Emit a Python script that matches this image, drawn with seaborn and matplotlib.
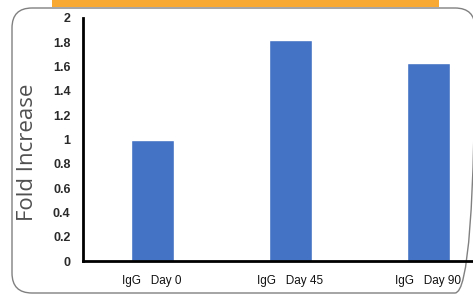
import matplotlib
matplotlib.use("Agg")
import matplotlib.pyplot as plt
import seaborn as sns
import pandas as pd
from matplotlib.patches import FancyBboxPatch, Rectangle

categories = ["IgG   Day 0", "IgG   Day 45", "IgG   Day 90"]
values = [1.0, 1.82, 1.63]
yticks = [0, 0.2, 0.4, 0.6, 0.8, 1, 1.2, 1.4, 1.6, 1.8, 2]
ytick_labels = ["0", "0.2", "0.4", "0.6", "0.8", "1", "1.2", "1.4", "1.6", "1.8", "2"]

df = pd.DataFrame({"cat": categories, "val": values})

sns.set_style("white")
plt.rcParams['font.family'] = ['Liberation Sans', 'DejaVu Sans']

W, H = 473, 297
fig = plt.figure(figsize=(W/100, H/100), dpi=100)

# background decoration in pixel coordinates
bg = fig.add_axes([0, 0, 1, 1])
bg.set_xlim(0, W)
bg.set_ylim(H, 0)
bg.axis("off")
bg.add_patch(FancyBboxPatch((12, 8), 463, 285,
                            boxstyle="round,pad=0,rounding_size=20",
                            fill=False, edgecolor="#808080", linewidth=1.0))
bg.add_patch(Rectangle((52, 0), 387, 7, facecolor="#F8A934", edgecolor="none"))

ax = fig.add_axes([83/W, 36/H, (W-83)/W, 243/H])
sns.barplot(data=df, x="cat", y="val", color="#4472C4", width=0.31,
            saturation=1, ax=ax)
ax.set_xlim(-0.5, (W-152.5)/138)
ax.set_ylim(0, 2)
ax.set_yticks(yticks)
ax.set_yticklabels(ytick_labels, fontsize=9, fontweight="bold", color="#2a2a2a")
ax.tick_params(axis="y", length=0, pad=9)
ax.tick_params(axis="x", length=0, pad=10, labelsize=8.5, labelcolor="#111111")
ax.set_xlabel("")
ax.set_ylabel("Fold Increase", fontsize=16, color="#505050",
              family=["Open Sans", "DejaVu Sans"])
ax.yaxis.set_label_coords(-0.116, 0.449)
for s in ["top", "right"]:
    ax.spines[s].set_visible(False)
for s in ["left", "bottom"]:
    ax.spines[s].set_color("black")
    ax.spines[s].set_linewidth(2)
ax.patch.set_alpha(0)

fig.savefig("out.png", dpi=100)
